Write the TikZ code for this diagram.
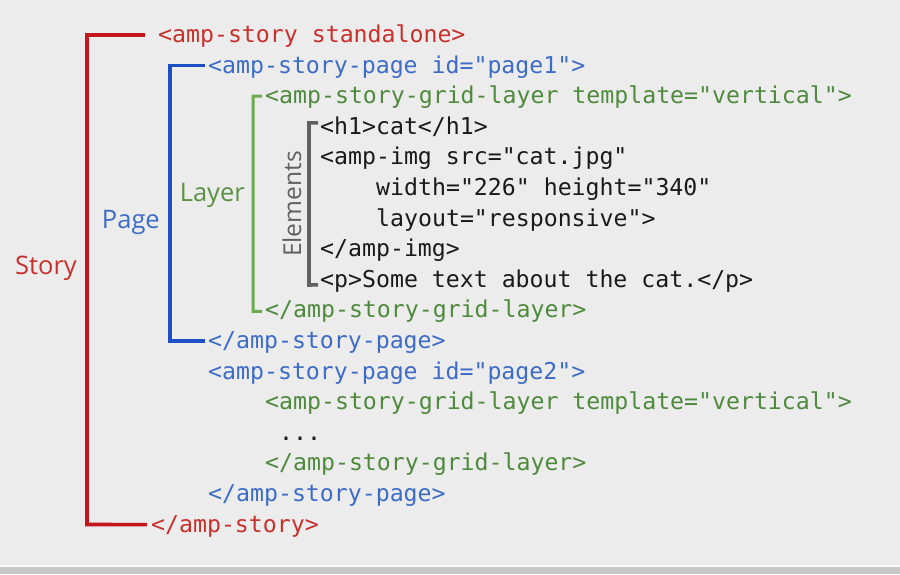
\documentclass[tikz,border=0pt]{standalone}
\usepackage{fontspec}
\setmainfont{Open Sans}
\setmonofont{DejaVu Sans Mono}
\usepackage{tikz}
\usetikzlibrary{positioning}

\definecolor{storybar}{HTML}{C4161C}
\definecolor{storytxt}{HTML}{C8302C}
\definecolor{pagebar}{HTML}{1C50C4}
\definecolor{pagetxt}{HTML}{3C6CC6}
\definecolor{layerbar}{HTML}{6AAB4F}
\definecolor{layertxt}{HTML}{4E8A3C}
\definecolor{elembar}{HTML}{616161}
\definecolor{codetxt}{HTML}{1A1A1A}
\definecolor{bgcol}{HTML}{ECECEC}

\begin{document}
\begin{tikzpicture}[x=1pt, y=-1pt,
    code/.style={anchor=west, inner sep=0pt, font=\fontsize{23.2}{28}\selectfont\ttfamily, text height=19pt, text depth=2pt},
    lbl/.style={inner sep=0pt, font=\fontsize{25.5}{30}\selectfont},
    bar/.style={line width=3.6pt, line cap=butt, line join=miter}
]
\useasboundingbox (0,0) rectangle (900,574);
\fill[bgcol] (0,0) rectangle (900,574);
\fill[black!21] (0,567) rectangle (900,574);
\draw[white!70!bgcol, line width=1.2pt] (0,566) -- (900,566);

% code lines
\node[code, text=storytxt](l0) at (158,34){<amp-story standalone>};
\node[code, text=pagetxt](l1) at (208,64.6){<amp-story-page id="page1">};
\node[code, text=layertxt](l2) at (265,95.2){<amp-story-grid-layer template="vertical">};
\node[code, text=codetxt](l3) at (320,125.8){<h1>cat</h1>};
\node[code, text=codetxt](l4) at (320,156.4){<amp-img src="cat.jpg"};
\node[code, text=codetxt](l5) at (376,187){width="226" height="340"};
\node[code, text=codetxt](l6) at (376,217.6){layout="responsive">};
\node[code, text=codetxt](l7) at (320,248.2){</amp-img>};
\node[code, text=codetxt](l8) at (320,278.8){<p>Some text about the cat.</p>};
\node[code, text=layertxt](l9) at (265,309.4){</amp-story-grid-layer>};
\node[code, text=pagetxt](l10) at (208,340){</amp-story-page>};
\node[code, text=pagetxt](l11) at (208,370.6){<amp-story-page id="page2">};
\node[code, text=layertxt](l12) at (265,401.2){<amp-story-grid-layer template="vertical">};
\node[code, text=codetxt](l13) at (279,431.8){...};
\node[code, text=layertxt](l14) at (265,462.4){</amp-story-grid-layer>};
\node[code, text=pagetxt](l15) at (208,493){</amp-story-page>};
\node[code, text=storytxt](l16) at (151,523.6){</amp-story>};

% brackets
\coordinate (sbot) at (87,524.5);
\coordinate (pbot) at (170,341);
\coordinate (gbot) at (253,311.5);
\coordinate (ebot) at (309,285);

\draw[bar, storybar] ([xshift=-13pt, yshift=-1pt]l0.west) -| (sbot) -- ([xshift=-4pt, yshift=-1pt]l16.west);
\draw[bar, pagebar] ([xshift=-3pt, yshift=-1pt]l1.west) -| (pbot) -- ([xshift=-3pt, yshift=-1pt]l10.west);
\draw[bar, layerbar, line width=3pt] ([xshift=-3pt, yshift=-1pt]l2.west) -| (gbot) -- ([xshift=-3pt, yshift=-2pt]l9.west);
\draw[bar, elembar] ([xshift=-2pt, yshift=3pt]l3.west) -| (ebot) -- ([xshift=-2pt, yshift=-6pt]l8.west);

% labels
\coordinate (smid) at (87,268);
\coordinate (pmid) at (170,222);
\coordinate (gmid) at (253,195);
\node[lbl, text=storytxt](story)[left=10pt of smid]{Story};
\node[lbl, text=pagetxt](page)[left=10pt of pmid]{Page};
\node[lbl, text=layerbar!85!black](layer)[left=8pt of gmid]{Layer};
\node[lbl, text=elembar, rotate=90, font=\fontsize{24.6}{30}\selectfont](elements) at (292,204){Elements};
\end{tikzpicture}
\end{document}
